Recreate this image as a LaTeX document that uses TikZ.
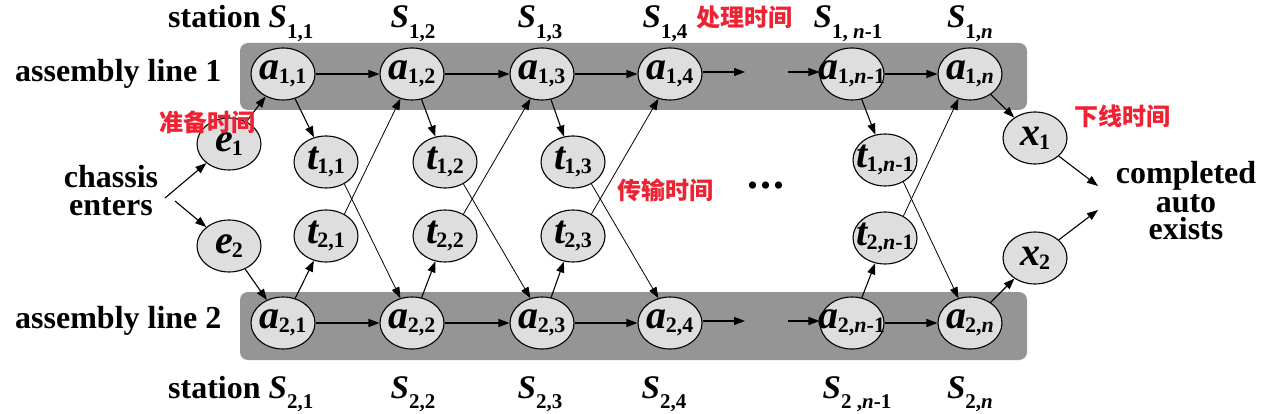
\documentclass[tikz,border=0pt]{standalone}
\usepackage{fontspec}
\setmainfont{Liberation Serif}
\newfontfamily\cjk{Noto Sans CJK SC}
\usetikzlibrary{shapes.geometric,arrows.meta}
\definecolor{bandgray}{HTML}{959595}
\definecolor{nodegray}{HTML}{DEDEDE}
\definecolor{cnred}{HTML}{EE2233}
\newcommand{\vn}[2]{{\fontsize{40}{40}\selectfont\bfseries\itshape #1}\kern-1pt\raisebox{-0.42em}{\fontsize{22}{22}\selectfont\bfseries #2}}
\newcommand{\vs}[2]{{\fontsize{33}{33}\selectfont\bfseries\itshape #1}\raisebox{-0.32em}{\fontsize{21}{21}\selectfont\bfseries #2}}
\newcommand{\myn}{\textit{n}}
\tikzset{
  st/.style={ellipse, draw, line width=1.1pt, fill=nodegray, minimum width=64pt, minimum height=52pt, inner sep=0pt},
  arr/.style={-{Triangle[length=11pt,width=8pt]}, line width=1.1pt},
  thin arr/.style={-{Triangle[length=11pt,width=8pt]}, line width=0.8pt},
  lbl/.style={font=\fontsize{32}{28}\selectfont\bfseries, inner sep=0pt},
  cn/.style={font=\fontsize{24}{24}\selectfont\cjk\bfseries, text=cnred, inner sep=0pt},
}
\begin{document}
\begin{tikzpicture}[x=1pt,y=-1pt]
\useasboundingbox[fill=white] (0,0) rectangle (1266,414);
% bands
\fill[bandgray, rounded corners=8pt] (240,43) rectangle (1027,110);
\fill[bandgray, rounded corners=8pt] (240,292) rectangle (1027,360);
% nodes
\node[st, label={center:\vn{a}{1,1}}] (a11) at (283,74) {};
\node[st, label={center:\vn{a}{1,2}}] (a12) at (412,74) {};
\node[st, label={center:\vn{a}{1,3}}] (a13) at (542,74) {};
\node[st, label={center:\vn{a}{1,4}}] (a14) at (670,74) {};
\node[st, label={center:\vn{a}{1,\myn-1}}] (a1m) at (852,74) {};
\node[st, label={center:\vn{a}{1,\myn}}] (a1n) at (970,74) {};
\node[st, label={center:\vn{a}{2,1}}] (a21) at (283,323) {};
\node[st, label={center:\vn{a}{2,2}}] (a22) at (412,323) {};
\node[st, label={center:\vn{a}{2,3}}] (a23) at (542,323) {};
\node[st, label={center:\vn{a}{2,4}}] (a24) at (670,323) {};
\node[st, label={center:\vn{a}{2,\myn-1}}] (a2m) at (852,323) {};
\node[st, label={center:\vn{a}{2,\myn}}] (a2n) at (970,323) {};
\node[st, label={center:\vn{t}{1,1}}] (t11) at (326,162) {};
\node[st, label={center:\vn{t}{1,2}}] (t12) at (445,162) {};
\node[st, label={center:\vn{t}{1,3}}] (t13) at (573,162) {};
\node[st, label={center:\vn{t}{1,\myn-1}}] (t1m) at (885,160) {};
\node[st, label={center:\vn{t}{2,1}}] (t21) at (326,236) {};
\node[st, label={center:\vn{t}{2,2}}] (t22) at (445,236) {};
\node[st, label={center:\vn{t}{2,3}}] (t23) at (573,236) {};
\node[st, label={center:\vn{t}{2,\myn-1}}] (t2m) at (885,238) {};
\node[st, label={center:\vn{e}{1}}] (e1) at (229,144) {};
\node[st, label={center:\vn{e}{2}}] (e2) at (229,246) {};
\node[st, label={center:\vn{x}{1}}] (x1) at (1035,138) {};
\node[st, label={center:\vn{x}{2}}] (x2) at (1035,258) {};
% free ends
\coordinate (ch1) at (165,198);
\coordinate (ch2) at (175,201);
\coordinate (c1) at (1098,186);
\coordinate (c2) at (1098,210);
\coordinate (d1a) at (745,72);
\coordinate (d1b) at (788,72);
\coordinate (d2a) at (745,321);
\coordinate (d2b) at (788,321);
% line arrows
\draw[arr] (a11) -- (a12);
\draw[arr] (a12) -- (a13);
\draw[arr] (a13) -- (a14);
\draw[arr] (a14.east |- d1a) -- (d1a);
\draw[arr] (d1b) -- (a1m.west |- d1b);
\draw[arr] (a1m) -- (a1n);
\draw[arr] (a21) -- (a22);
\draw[arr] (a22) -- (a23);
\draw[arr] (a23) -- (a24);
\draw[arr] (a24.east |- d2a) -- (d2a);
\draw[arr] (d2b) -- (a2m.west |- d2b);
\draw[arr] (a2m) -- (a2n);
% entry / exit
\draw[arr] (ch1) -- (e1);
\draw[arr] (ch2) -- (e2);
\draw[arr] (e1) -- (a11);
\draw[arr] (e2) -- (a21);
\draw[arr] (a1n) -- (x1);
\draw[arr] (a2n) -- (x2);
\draw[arr] (x1) -- (c1);
\draw[arr] (x2) -- (c2);
% transfers
\draw[arr] (a11) -- (t11);
\draw[arr] (a12) -- (t12);
\draw[arr] (a13) -- (t13);
\draw[arr] (a1m) -- (t1m);
\draw[arr] (a21) -- (t21);
\draw[arr] (a22) -- (t22);
\draw[arr] (a23) -- (t23);
\draw[arr] (a2m) -- (t2m);
\draw[thin arr] (t11.-50) -- (a22.115);
\draw[thin arr] (t12.-50) -- (a23.115);
\draw[thin arr] (t13.-50) -- (a24.115);
\draw[thin arr] (t1m.-50) -- (a2n.115);
\draw[thin arr] (t21.50) -- (a12.-115);
\draw[thin arr] (t22.50) -- (a13.-115);
\draw[thin arr] (t23.50) -- (a14.-115);
\draw[thin arr] (t2m.50) -- (a1n.-115);
% texts
\node[lbl, anchor=base west] (sta1) at (168,28) {station \vs{S}{1,1}};
\node[lbl, anchor=base] (s12) at (413,28) {\vs{S}{1,2}};
\node[lbl, anchor=base] (s13) at (540,28) {\vs{S}{1,3}};
\node[lbl, anchor=base] (s14) at (665,28) {\vs{S}{1,4}};
\node[lbl, anchor=base] (s1m) at (848,28) {\vs{S}{1, \myn-1}};
\node[lbl, anchor=base] (s1n) at (970,28) {\vs{S}{1,\myn}};
\node[lbl, anchor=base west] (sta2) at (168,398) {station \vs{S}{2,1}};
\node[lbl, anchor=base] (s22) at (413,398) {\vs{S}{2,2}};
\node[lbl, anchor=base] (s23) at (540,398) {\vs{S}{2,3}};
\node[lbl, anchor=base] (s24) at (664,398) {\vs{S}{2,4}};
\node[lbl, anchor=base] (s2m) at (857,398) {\vs{S}{2 ,\myn-1}};
\node[lbl, anchor=base] (s2n) at (970,398) {\vs{S}{2,\myn}};
\node[lbl, anchor=base west] (al1) at (15,82) {assembly line 1};
\node[lbl, anchor=base west] (al2) at (15,328) {assembly line 2};
\node[lbl, anchor=base, align=center] (chs) at (111,215) {chassis\\enters};
\node[lbl, anchor=base, align=center] (cmp) at (1186,240) {completed\\auto\\exists};
\node[lbl, anchor=base] (dots) at (766,189) {\fontsize{44}{44}\selectfont.\kern2pt.\kern2pt.};
\node[cn] (cn1) at (207,122) {准备时间};
\node[cn] (cn2) at (744,17) {处理时间};
\node[cn] (cn3) at (665,190) {传输时间};
\node[cn] (cn4) at (1122,116) {下线时间};
\end{tikzpicture}
\end{document}
